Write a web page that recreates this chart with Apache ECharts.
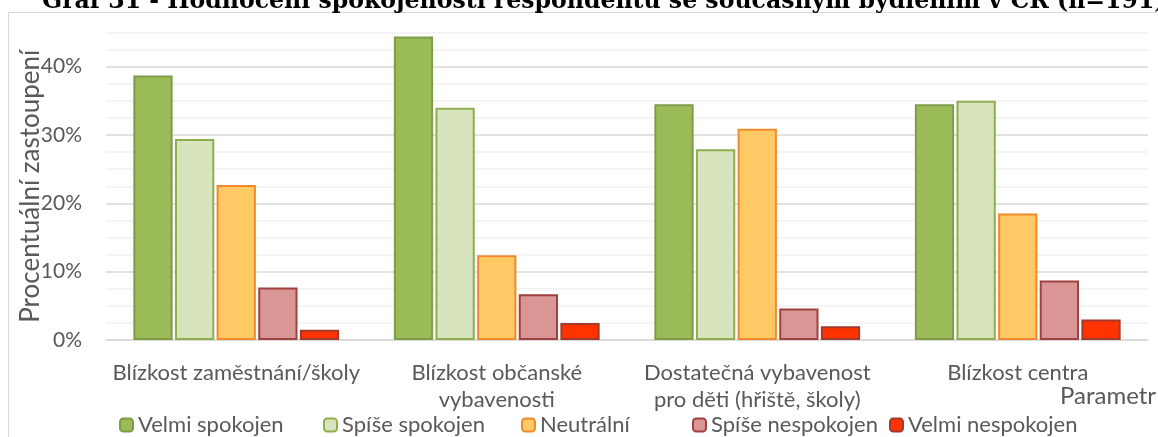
<!DOCTYPE html>
<html>
<head>
<meta charset="utf-8">
<script src="https://cdn.jsdelivr.net/npm/echarts@6/dist/echarts.min.js"></script>
<style>
  html, body { margin: 0; padding: 0; background: #fff; }
  #chart { width: 1158px; height: 437px; }
</style>
</head>
<body>
<div id="chart"></div>
<script>
// data (shares, 0-1)
var categories = ['Blízkost zaměstnání/školy', 'Blízkost občanské\nvybavenosti', 'Dostatečná vybavenost\npro děti (hřiště, školy)', 'Blízkost centra'];
var seriesNames = ['Velmi spokojen', 'Spíše spokojen', 'Neutrální', 'Spíše nespokojen', 'Velmi nespokojen'];
var velmiSpokojen = [0.387, 0.444, 0.345, 0.345];
var spiseSpokojen = [0.294, 0.340, 0.279, 0.350];
var neutralni = [0.227, 0.124, 0.309, 0.185];
var spiseNespokojen = [0.077, 0.067, 0.046, 0.087];
var velmiNespokojen = [0.015, 0.025, 0.020, 0.030];
var yTicks = [0, 0.1, 0.2, 0.3, 0.4];

var fills = ['#9BBB59', '#D7E4BD', '#FFC966', '#D99694', '#FF3300'];
var borders = ['#7F9C48', '#8FAE4F', '#F08A2C', '#A0413F', '#A3392C'];
var values = [velmiSpokojen, spiseSpokojen, neutralni, spiseNespokojen, velmiNespokojen];
// legend columns, like the original layout
var legendLeft = [114, 318, 516, 687, 884];

var font = 'Lato';
var gray = '#595959';

var chart = echarts.init(document.getElementById('chart'));
chart.setOption({
  animation: false,
  textStyle: { fontFamily: font },
  title: {
    text: 'Graf 31 - Hodnocení spokojenosti respondentů se současným bydlením v ČR (n=191)',
    left: 37,
    top: -15,
    textStyle: { fontFamily: 'DejaVu Serif', fontWeight: 'bold', fontSize: 23.6, color: '#000' }
  },
  graphic: [{
    type: 'rect',
    shape: { x: 8.5, y: 12.5, width: 1200, height: 500 },
    style: { fill: 'none', stroke: '#d9d9d9', lineWidth: 1 },
    silent: true,
    z: -1
  }],
  grid: { left: 106, right: 10, top: 32.5, bottom: 97, containLabel: false, outerBoundsMode: 'none' },
  legend: seriesNames.map(function (name, i) {
    return {
      left: legendLeft[i],
      top: 409,
      itemWidth: 13,
      itemHeight: 13,
      itemGap: 0,
      textStyle: { fontSize: 22, color: gray, fontFamily: font },
      data: [name]
    };
  }),
  xAxis: {
    type: 'category',
    data: categories,
    name: 'Parametr',
    nameLocation: 'end',
    nameGap: -88,
    nameMoveOverlap: false,
    nameTextStyle: { fontSize: 24, color: gray, verticalAlign: 'top', padding: [44, 0, 0, 0] },
    axisLine: { lineStyle: { color: '#d9d9d9', width: 1.5 } },
    axisTick: { show: false },
    axisLabel: { interval: 0, fontSize: 22, color: gray, lineHeight: 27, margin: 19 }
  },
  yAxis: [{
    type: 'value',
    min: 0,
    max: 0.45,
    interval: 0.1,
    name: 'Procentuální zastoupení',
    nameLocation: 'middle',
    nameGap: 62,
    nameMoveOverlap: false,
    nameTextStyle: { fontSize: 26, color: gray },
    axisLine: { show: false },
    axisTick: { show: false },
    axisLabel: {
      fontSize: 21, color: gray, margin: 24, showMaxLabel: false,
      formatter: function (v) { return yTicks.indexOf(Math.round(v * 10) / 10) >= 0 && Math.abs(v - Math.round(v * 10) / 10) < 1e-9 ? Math.round(v * 100) + '%' : ''; }
    },
    splitLine: { lineStyle: { color: ['#d9d9d9', '#d9d9d9', '#d9d9d9', '#d9d9d9', '#d9d9d9', 'rgba(0,0,0,0)'], width: 1.5 } }
  }, {
    type: 'value',
    min: 0,
    max: 0.45,
    interval: 0.025,
    position: 'left',
    axisLine: { show: false },
    axisTick: { show: false },
    axisLabel: { show: false },
    splitLine: { lineStyle: { color: ['rgba(0,0,0,0)', '#f0f0f0', '#f0f0f0', '#f0f0f0'], width: 1.5 } }
  }],
  series: seriesNames.map(function (name, i) {
    return {
      name: name,
      type: 'bar',
      yAxisIndex: 0,
      data: values[i],
      barCategoryGap: '21%',
      barGap: '6%',
      itemStyle: { color: fills[i], borderColor: borders[i], borderWidth: 2 }
    };
  })
});
</script>
</body>
</html>
